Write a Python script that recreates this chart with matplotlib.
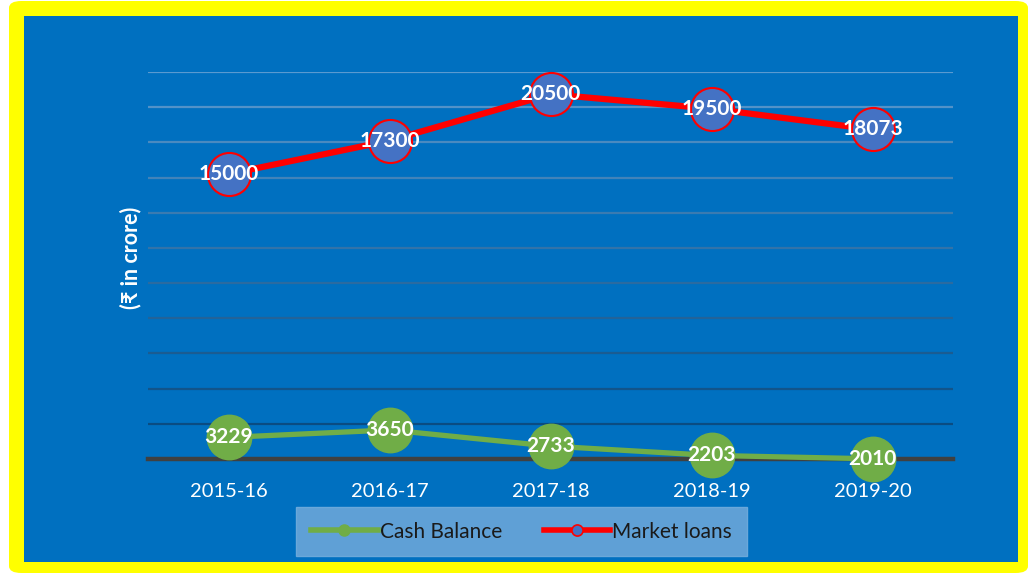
import matplotlib
matplotlib.use("Agg")
import matplotlib.pyplot as plt
import numpy as np
from matplotlib.patches import FancyBboxPatch, Rectangle
from matplotlib.colors import to_rgb
from matplotlib.lines import Line2D

years = ["2015-16", "2016-17", "2017-18", "2018-19", "2019-20"]
cash_balance = [3229, 3650, 2733, 2203, 2010]
market_loans = [15000, 17300, 20500, 19500, 18073]
grid_values = list(range(4000, 24001, 2000))

plt.rcParams['font.family'] = ['Lato', 'DejaVu Sans']

W, H = 1028, 574
fig = plt.figure(figsize=(W/100, H/100), dpi=100)
fig.patch.set_facecolor('white')

# frame
fig.patches.append(FancyBboxPatch((9/W, 1/H), (1028-9)/W, (573-1)/H,
                                  boxstyle="round,pad=0,rounding_size=0.012",
                                  transform=fig.transFigure, facecolor='#FFFF00',
                                  edgecolor='none', zorder=-2))
fig.patches.append(Rectangle((24/W, (H-562)/H), (1018-24)/W, (562-16)/H,
                             transform=fig.transFigure, facecolor='#0070C0',
                             edgecolor='none', zorder=-1))

left, right, top, bottom = 148, 953, 72, 459
ax = fig.add_axes([left/W, (H-bottom)/H, (right-left)/W, (bottom-top)/H])
ax.set_facecolor('none')
ax.set_xlim(-0.5, 4.5)
ax.set_ylim(2000, 24000)
for s in ax.spines.values():
    s.set_visible(False)
ax.set_yticks([])
x = np.arange(len(years))
ax.set_xticks(x)
ax.set_xticklabels(years, color='white', fontsize=14.5)
ax.tick_params(axis='x', length=0, pad=17)

c_top = np.array(to_rgb('#5A9AD0'))
c_bot = np.array(to_rgb('#0A4C82'))
for v in grid_values:
    t = (v - 4000) / 20000
    col = c_bot + (c_top - c_bot) * t
    ax.axhline(v, color=col, lw=1.6, zorder=1)
ax.axhline(2000, color='#404040', lw=3.2, zorder=1.5, clip_on=False)

ax.plot(x, cash_balance, color='#70AD47', lw=3.8, marker='o', ms=32,
        markerfacecolor='#70AD47', markeredgecolor='#70AD47', zorder=3,
        label='Cash Balance', clip_on=False)
for xi, v in zip(x, cash_balance):
    ax.text(xi, v, str(v), ha='center', va='center', color='white',
            fontsize=15, fontweight='bold', zorder=4)

ax2 = ax.twinx()
ax2.set_ylim(-4640, 22030)
ax2.set_yticks([])
for s in ax2.spines.values():
    s.set_visible(False)
ax2.plot(x, market_loans, color='#FF0000', lw=4.5, marker='o', ms=31,
         markerfacecolor='#4472C4', markeredgecolor='#FF0000', markeredgewidth=1.5,
         zorder=3, label='Market loans', clip_on=False)
for xi, v in zip(x, market_loans):
    ax2.text(xi, v, str(v), ha='center', va='center', color='white',
             fontsize=15, fontweight='bold', zorder=4)

fig.text(131/W, (H-258)/H, "(₹ in crore)", rotation=90, ha='center', va='center',
         color='white', fontsize=15.5, fontweight='bold',
         family=['Lato', 'DejaVu Sans'])

h1 = Line2D([], [], color='#70AD47', lw=4, marker='o', ms=8,
            markerfacecolor='#70AD47', markeredgecolor='#70AD47')
h2 = Line2D([], [], color='#FF0000', lw=4, marker='o', ms=8,
            markerfacecolor='#4472C4', markeredgecolor='#FF0000', markeredgewidth=1.2)
leg = fig.legend([h1, h2], ['Cash Balance', 'Market loans'], ncol=2,
                 loc='center', bbox_to_anchor=(521.5/W, (H-531.5)/H),
                 frameon=True, fancybox=False, fontsize=15, handlelength=3.2,
                 columnspacing=2.0, handletextpad=0.1, borderpad=0.7,
                 labelcolor='#1A1A1A')
leg.get_frame().set_facecolor('#5FA0D6')
leg.get_frame().set_edgecolor('#6AA8DA')
leg.get_frame().set_alpha(1)

fig.savefig('out.png', dpi=100)
